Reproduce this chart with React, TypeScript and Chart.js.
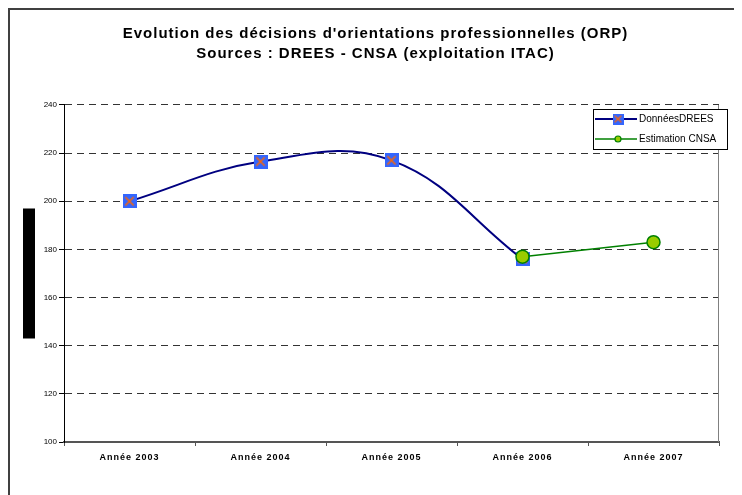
import React, { useEffect, useRef } from 'react';
import { Chart, registerables } from 'chart.js';

Chart.register(...registerables);

const categories = ['Année 2003', 'Année 2004', 'Année 2005', 'Année 2006', 'Année 2007'];
const dreesValues: (number | null)[] = [200, 216.5, 217, 176, null];
const cnsaValues: (number | null)[] = [null, null, null, 177, 183];
const yMin = 100;
const yMax = 240;
const yStep = 20;
const titleLines = [
  "Evolution des décisions d'orientations professionnelles (ORP)",
  'Sources : DREES - CNSA (exploitation ITAC)',
];
const seriesLabels = ['DonnéesDREES', 'Estimation CNSA'];

const FONT = "'Liberation Sans', Arial, Helvetica, sans-serif";

function makeSquareX(size: number, lw: number): HTMLCanvasElement {
  const c = document.createElement('canvas');
  c.width = size;
  c.height = size;
  const g = c.getContext('2d')!;
  g.fillStyle = '#3366FF';
  g.fillRect(0, 0, size, size);
  g.strokeStyle = '#FF6600';
  g.lineWidth = lw;
  const m = size * 0.2;
  g.beginPath();
  g.moveTo(m, m);
  g.lineTo(size - m, size - m);
  g.moveTo(size - m, m);
  g.lineTo(m, size - m);
  g.stroke();
  return c;
}

export default function App() {
  const ref = useRef<HTMLCanvasElement | null>(null);

  useEffect(() => {
    const canvas = ref.current;
    if (!canvas) return;
    const bigMarker = makeSquareX(14, 1.6);
    const smallMarker = makeSquareX(11, 1.3);

    const decor = {
      id: 'decor',
      beforeDraw(chart: any) {
        const { ctx, chartArea: a } = chart;
        (ctx as any).letterSpacing = '1px';
        ctx.save();
        ctx.fillStyle = '#000';
        const h = 130;
        ctx.fillRect(a.left - 41, (a.top + a.bottom) / 2 - h / 2, 12, h);
        ctx.restore();
      },
      beforeDatasetsDraw(chart: any) {
        const { ctx, chartArea: a } = chart;
        (ctx as any).letterSpacing = '0px';
        ctx.save();
        ctx.strokeStyle = '#808080';
        ctx.lineWidth = 1;
        ctx.beginPath();
        ctx.moveTo(Math.round(a.right) - 0.5, a.top);
        ctx.lineTo(Math.round(a.right) - 0.5, a.bottom);
        ctx.stroke();
        ctx.restore();
      },
      afterDraw(chart: any) {
        const { ctx, chartArea: a } = chart;
        ctx.save();
        (ctx as any).letterSpacing = '0px';
        const L = Math.round(a.right - 126);
        const T = Math.round(a.top + 4);
        const W = 134;
        const H = 40;
        ctx.fillStyle = '#fff';
        ctx.fillRect(L, T, W, H);
        ctx.strokeStyle = '#000';
        ctx.lineWidth = 1;
        ctx.strokeRect(L + 0.5, T + 0.5, W, H);
        // row 1
        const y1 = T + 10;
        ctx.strokeStyle = '#000080';
        ctx.lineWidth = 2;
        ctx.beginPath();
        ctx.moveTo(L + 2, y1);
        ctx.lineTo(L + 44, y1);
        ctx.stroke();
        ctx.drawImage(smallMarker, L + 25 - 5.5, y1 - 5.5);
        // row 2
        const y2 = T + 30;
        ctx.strokeStyle = '#008000';
        ctx.lineWidth = 1.5;
        ctx.beginPath();
        ctx.moveTo(L + 2, y2);
        ctx.lineTo(L + 44, y2);
        ctx.stroke();
        ctx.beginPath();
        ctx.arc(L + 25, y2, 3, 0, Math.PI * 2);
        ctx.fillStyle = '#99CC00';
        ctx.fill();
        ctx.strokeStyle = '#008000';
        ctx.lineWidth = 1.2;
        ctx.stroke();
        ctx.fillStyle = '#000';
        ctx.font = `10px ${FONT}`;
        ctx.textBaseline = 'middle';
        ctx.textAlign = 'left';
        ctx.fillText(seriesLabels[0], L + 46, y1);
        ctx.fillText(seriesLabels[1], L + 46, y2);
        ctx.restore();
      },
    };

    const chart = new Chart(canvas, {
      type: 'line',
      data: {
        labels: categories,
        datasets: [
          {
            label: seriesLabels[1],
            data: cnsaValues,
            order: 0,
            borderColor: '#008000',
            borderWidth: 1.5,
            tension: 0,
            pointStyle: 'circle',
            pointRadius: 6.5,
            pointBackgroundColor: '#99CC00',
            pointBorderColor: '#008000',
            pointBorderWidth: 1.5,
            fill: false,
          },
          {
            label: seriesLabels[0],
            data: dreesValues,
            order: 1,
            borderColor: '#000080',
            borderWidth: 2,
            tension: 0.4,
            pointStyle: bigMarker as any,
            pointRadius: 7,
            fill: false,
          },
        ],
      },
      options: {
        animation: false,
        responsive: true,
        maintainAspectRatio: false,
        events: [],
        layout: { padding: { top: 0, right: 17, bottom: 38, left: 22 } },
        plugins: {
          legend: { display: false },
          tooltip: { enabled: false },
          title: {
            display: true,
            text: titleLines,
            color: '#000',
            font: { family: FONT, size: 15, weight: 'bold', lineHeight: 1.333 },
            padding: { top: 14, bottom: 41 },
          },
        },
        scales: {
          x: {
            type: 'category',
            offset: true,
            grid: {
              display: true,
              drawOnChartArea: false,
              drawTicks: true,
              tickLength: 4,
              offset: true,
              color: '#555',
              tickColor: '#555',
            },
            border: { display: true, color: '#555', width: 2 },
            ticks: {
              color: '#000',
              font: { family: FONT, size: 9, weight: 'bold' },
              padding: 6,
              maxRotation: 0,
              autoSkip: false,
            },
            afterFit(s: any) {
              s.height = 30;
            },
          },
          y: {
            min: yMin,
            max: yMax,
            ticks: {
              stepSize: yStep,
              color: '#000',
              font: { family: FONT, size: 8 },
              padding: 2,
              z: 1,
            },
            grid: {
              color: '#333',
              lineWidth: 1,
              drawTicks: true,
              tickLength: 5,
              tickColor: '#000',
              tickBorderDash: [],
            },
            border: { display: true, color: '#000', width: 1, dash: [7, 5] },
            afterFit(s: any) {
              s.width = 32;
            },
          },
        },
      },
      plugins: [decor],
    } as any);

    return () => chart.destroy();
  }, []);

  return (
    <>
      <style>{'html,body{overflow:hidden}'}</style>
      <div
        style={{
          position: 'relative',
          width: 726,
          height: 500,
          borderTop: '2px solid #404040',
          borderLeft: '2px solid #404040',
          borderRight: '2px solid #404040',
          background: '#fff',
        }}
      >
        <canvas ref={ref} />
      </div>
    </>
  );
}
